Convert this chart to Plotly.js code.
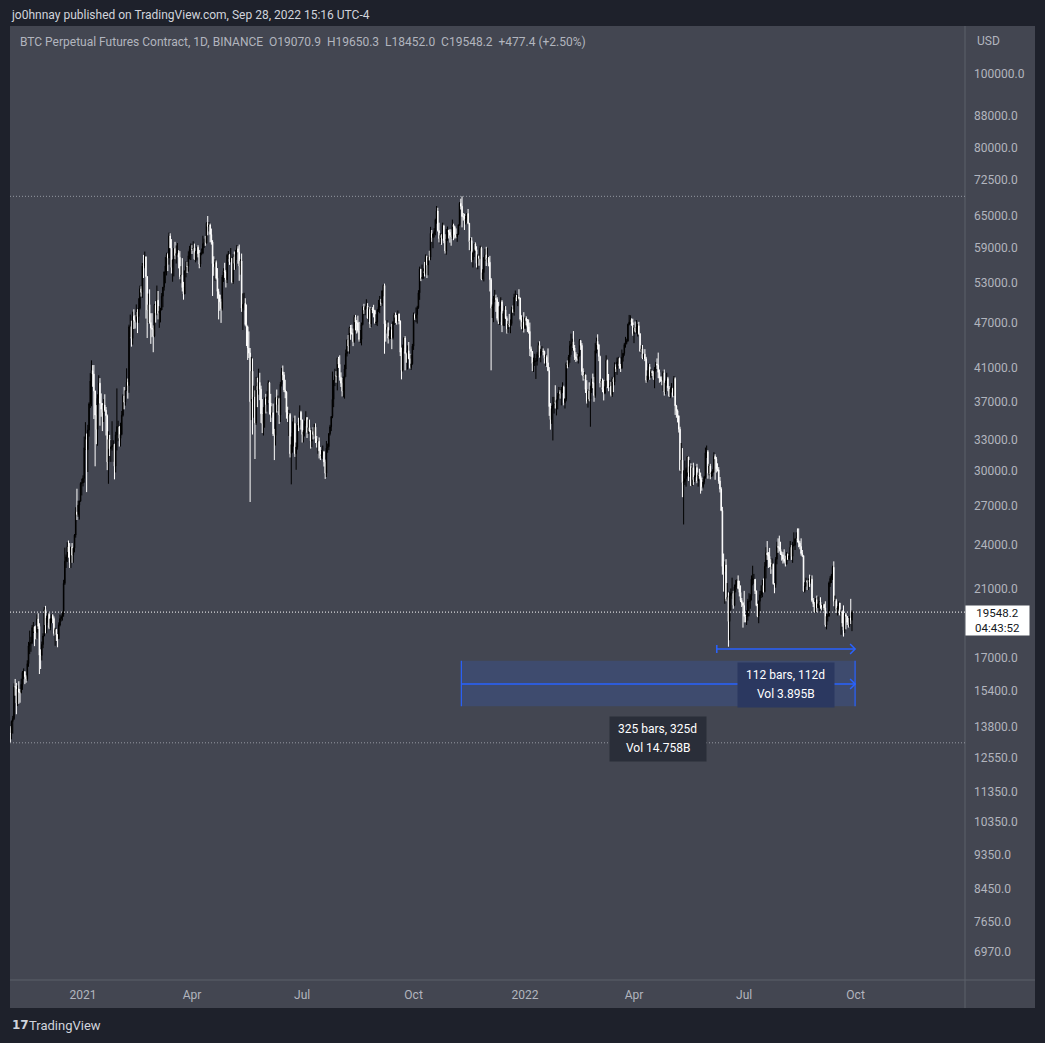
<!DOCTYPE html>
<html>
<head>
<meta charset="utf-8">
<script src="https://cdn.plot.ly/plotly-3.0.1.min.js"></script>
<style>
html,body{margin:0;padding:0;background:#1e212b;}
#chart{width:1045px;height:1043px;}
</style>
</head>
<body>
<div id="chart"></div>
<script>
// ---- DATA: daily candles, BTC perpetual (Binance), values in thousands of USD ----
// each row = [high, low, close]; open of a day = previous day's close (24/7 market)
const firstOpenK = 13.737;

const nov2020 = [[13.83,13.15,13.55],[14.07,13.29,14.03],[14.27,13.52,14.15],[15.75,14.09,15.59],[15.96,15.17,15.58],[15.77,14.34,14.83],[15.65,14.70,15.48],[15.85,14.80,15.33],[15.48,14.85,15.31],[15.97,15.28,15.70],[16.35,15.44,16.28],[16.48,15.95,16.32],[16.33,15.71,16.07],[16.14,15.78,15.96],[16.89,15.87,16.72],[17.86,16.56,17.65],[18.48,17.21,17.78],[18.14,17.33,17.82],[18.80,17.74,18.65],[18.97,18.35,18.70],[18.70,17.63,18.42],[18.77,18.00,18.37],[19.42,18.03,19.15],[19.48,18.57,18.72],[18.90,16.20,17.15],[17.46,16.45,17.14],[17.88,16.88,17.72],[18.33,17.52,18.18],[19.86,18.18,19.70]];
const dec2020 = [[19.92,18.33,18.79],[19.34,18.33,19.21],[19.57,18.92,19.42],[19.51,18.56,18.65],[19.18,18.50,19.15],[19.41,18.90,19.36],[19.42,18.90,19.17],[19.29,18.20,18.32],[18.64,17.65,18.55],[18.56,17.91,18.25],[18.28,17.57,18.03],[18.95,18.02,18.80],[19.41,18.72,19.17],[19.35,19.00,19.27],[19.57,19.05,19.43],[21.56,19.28,21.33],[23.77,21.23,22.80],[23.28,22.35,23.11],[24.17,22.75,23.83],[24.29,23.06,23.46],[24.10,22.35,22.72],[23.84,22.35,23.81],[24.10,22.70,23.23],[23.78,22.70,23.73],[24.77,23.43,24.69],[26.87,24.50,26.49],[28.42,25.85,26.28],[27.41,26.10,27.04],[27.41,25.88,27.37],[28.99,27.32,28.88],[29.30,27.85,28.92]];
const jan2021 = [[29.60,28.62,29.33],[33.30,28.95,32.18],[34.78,31.96,33.00],[33.60,28.13,31.99],[34.50,29.90,33.95],[36.94,33.29,36.77],[40.36,36.30,39.40],[41.95,36.50,40.67],[41.35,38.72,40.24],[41.36,35.11,38.24],[38.26,30.42,35.54],[36.63,32.53,34.01],[37.85,32.38,37.39],[40.10,36.70,39.15],[39.75,34.41,36.83],[37.95,35.36,36.18],[36.85,33.85,35.79],[37.30,34.80,36.63],[37.85,35.90,36.07],[36.42,33.40,35.47],[35.60,30.07,30.83],[33.83,28.85,33.01],[33.46,31.39,32.08],[32.94,30.83,32.27],[34.88,31.90,32.37],[32.92,30.84,32.53],[32.56,29.24,30.43],[33.78,29.86,33.47],[38.53,31.92,34.32],[34.93,32.83,34.32],[34.34,32.30,33.11]];
const feb2021 = [[34.72,32.30,33.52],[35.98,33.42,35.51],[37.85,35.37,37.66],[38.70,36.16,36.95],[38.31,36.57,38.29],[40.95,38.22,39.26],[39.70,37.35,38.87],[46.75,38.02,46.45],[48.20,45.02,46.51],[47.31,43.73,44.84],[48.63,44.00,47.97],[48.98,46.13,47.41],[48.15,46.20,47.19],[49.71,47.05,48.58],[49.00,45.57,47.92],[50.65,47.00,49.14],[52.62,48.95,52.12],[52.53,50.90,51.55],[56.37,50.71,55.90],[57.77,53.86,55.84],[58.35,55.47,57.41],[57.53,47.62,54.09],[54.17,44.89,48.89],[51.37,47.00,49.68],[52.04,46.89,47.07],[48.40,44.10,46.27],[48.40,45.00,46.10],[46.65,43.00,45.14]];
const mar2021 = [[49.79,45.00,49.59],[50.20,47.04,48.44],[52.64,48.10,50.35],[51.77,47.50,48.37],[49.45,46.30,48.75],[49.20,47.07,48.88],[51.45,48.88,50.97],[52.40,49.28,52.38],[54.90,51.83,54.88],[57.39,53.00,55.86],[58.15,54.27,57.80],[58.05,55.00,57.22],[61.80,56.08,61.19],[61.68,58.97,59.00],[60.60,54.60,55.60],[56.94,53.25,56.90],[58.98,54.12,58.91],[60.10,57.00,57.65],[59.45,56.27,58.03],[59.88,57.82,58.10],[58.60,55.45,57.35],[58.43,53.65,54.08],[55.83,53.00,54.34],[57.20,51.70,52.30],[53.23,50.43,51.30],[55.08,51.28,55.03],[56.64,53.96,55.82],[56.56,54.69,55.78],[58.40,54.90,57.63],[59.37,57.00,58.73],[59.80,56.87,58.74]];
const apr2021 = [[59.49,57.93,58.72],[60.20,58.45,58.98],[59.78,56.95,57.06],[58.49,56.48,58.20],[59.25,56.79,59.12],[59.48,57.33,57.97],[58.65,55.47,56.16],[58.15,55.70,58.09],[58.90,57.70,58.09],[61.22,57.90,59.77],[60.69,59.00,59.96],[61.20,59.38,59.85],[63.77,59.82,63.58],[65.00,61.30,62.96],[63.80,62.02,63.25],[63.52,60.00,61.45],[62.57,59.60,60.06],[60.40,51.00,56.25],[57.52,54.22,55.72],[57.00,53.40,56.47],[56.80,53.60,53.82],[55.50,50.58,51.70],[52.13,47.50,51.18],[51.17,48.76,50.11],[50.58,47.00,49.07],[54.35,48.80,54.02],[55.47,53.22,55.04],[56.40,53.88,54.86],[55.20,52.33,53.56],[57.96,53.03,57.70]];
const may2021 = [[58.45,57.05,57.80],[57.90,56.04,56.58],[58.98,56.48,57.17],[57.20,53.00,53.20],[57.90,52.90,57.45],[58.36,55.20,56.28],[58.65,55.25,57.87],[59.50,56.90,58.86],[59.30,56.25,58.24],[59.60,53.40,55.84],[57.00,54.40,56.70],[58.00,48.60,49.15],[51.40,46.00,49.71],[51.50,48.80,49.90],[50.65,46.60,46.76],[49.70,43.82,46.43],[46.60,42.00,43.54],[45.80,42.25,42.90],[43.55,27.30,37.00],[42.40,35.00,40.60],[42.20,33.50,37.30],[38.85,35.25,37.53],[38.30,31.10,34.70],[39.90,34.50,38.80],[39.80,36.40,38.33],[40.90,37.80,39.24],[40.40,37.18,38.44],[38.85,34.70,35.68],[37.30,33.65,34.62],[36.40,33.40,35.65],[37.50,34.20,37.30]];
const jun2021 = [[37.90,35.70,36.69],[38.20,35.90,37.57],[39.48,37.20,39.19],[39.30,35.60,36.86],[37.90,34.80,35.52],[36.50,35.25,35.80],[36.80,33.35,33.56],[34.08,31.00,33.40],[37.50,32.40,37.39],[38.40,35.80,36.69],[37.70,35.95,37.34],[37.45,34.60,35.55],[39.30,34.80,39.02],[41.00,38.75,40.53],[41.30,39.50,40.15],[40.50,38.10,38.35],[39.55,37.40,38.09],[38.20,35.15,35.82],[36.45,34.80,35.48],[36.10,33.35,35.60],[35.75,31.25,31.60],[33.30,28.80,32.51],[34.85,31.70,33.68],[35.25,32.30,34.65],[35.48,31.30,31.60],[32.70,30.10,32.25],[34.70,32.00,34.68],[35.25,33.85,34.45],[36.60,34.20,35.85],[36.00,34.00,35.02]];
const jul2021 = [[35.05,32.70,33.50],[33.95,32.70,33.79],[34.95,33.30,34.65],[35.95,34.35,35.28],[35.30,33.15,33.70],[35.05,33.55,34.22],[35.05,33.78,33.85],[33.95,32.10,32.85],[34.08,32.25,33.80],[34.25,33.00,33.50],[34.60,33.30,34.26],[34.65,32.65,33.08],[33.35,32.20,32.72],[33.10,31.60,32.82],[33.20,31.15,31.88],[32.25,31.00,31.39],[31.95,31.15,31.53],[32.40,31.10,31.78],[31.88,30.40,30.83],[31.05,29.28,29.79],[32.85,29.45,32.14],[32.60,31.70,32.29],[33.65,31.95,33.58],[34.50,33.40,34.29],[35.40,33.85,35.38],[40.55,35.20,37.27],[39.53,36.40,39.46],[40.90,38.80,40.02],[40.60,39.20,40.00],[42.30,38.30,42.20],[42.40,41.00,41.46]];
const aug2021 = [[42.60,39.45,39.85],[40.45,38.70,39.15],[39.75,37.60,38.20],[39.95,37.50,39.72],[41.40,37.35,40.87],[43.35,39.90,42.84],[44.70,42.45,44.61],[45.30,43.10,43.82],[46.45,42.80,46.29],[46.70,44.65,45.59],[46.75,45.35,45.55],[46.20,43.80,44.40],[48.15,44.25,47.82],[48.15,45.95,47.10],[47.40,45.50,47.02],[48.05,45.65,45.93],[47.15,44.40,44.69],[46.00,44.20,44.71],[47.05,43.90,46.76],[49.40,46.65,49.34],[49.80,48.30,48.87],[49.50,48.10,49.29],[50.50,49.05,49.50],[49.90,47.60,47.70],[49.30,47.15,48.97],[49.35,46.30,46.85],[49.20,46.40,49.07],[49.30,48.40,48.90],[49.65,47.80,48.80],[48.90,46.90,46.99],[48.25,46.70,47.13]];
const sep2021 = [[49.00,46.55,48.83],[50.40,48.60,49.27],[51.00,48.40,49.94],[50.55,49.50,49.90],[51.90,49.45,51.76],[52.80,50.95,52.66],[52.95,42.80,46.86],[47.35,44.40,46.06],[47.40,45.50,46.38],[47.05,44.15,44.85],[45.95,44.70,45.16],[46.45,44.75,46.03],[46.85,43.40,44.94],[47.25,44.70,47.11],[48.45,46.70,48.14],[48.50,47.00,47.76],[48.15,46.75,47.30],[48.80,47.05,48.30],[48.35,46.80,47.26],[47.35,42.50,42.99],[43.60,39.60,40.70],[44.00,40.55,43.56],[45.00,43.10,44.89],[45.15,40.70,42.83],[42.95,41.65,42.70],[43.90,40.80,43.20],[44.35,42.10,42.17],[42.80,40.90,41.03],[42.65,40.75,41.52],[44.10,41.40,43.79]];
const oct2021 = [[48.50,43.30,48.14],[48.35,47.40,47.66],[49.25,47.10,48.20],[49.50,46.90,49.23],[51.90,49.05,51.49],[55.75,50.40,55.34],[55.35,53.35,53.80],[56.10,53.65,53.95],[55.45,53.70,54.96],[56.55,54.10,54.66],[57.85,54.40,57.49],[57.65,53.85,56.01],[57.70,54.30,57.37],[58.50,56.80,57.36],[62.90,56.85,61.67],[62.30,60.10,60.88],[61.70,58.95,61.53],[62.65,60.90,62.00],[64.48,61.30,64.28],[67.00,63.50,66.00],[66.65,62.00,62.21],[63.70,60.00,60.69],[61.70,59.70,61.31],[61.50,59.55,60.86],[63.70,60.65,63.08],[63.30,59.85,60.33],[61.50,58.00,58.45],[62.50,57.80,60.59],[62.95,60.30,62.27],[62.30,60.70,61.88],[62.45,59.95,61.30]];
const nov2021 = [[62.40,59.40,61.00],[64.30,60.65,63.22],[63.50,60.40,62.93],[63.10,60.70,61.44],[62.60,60.75,61.00],[61.55,60.10,61.53],[63.30,61.35,63.30],[67.80,63.10,67.55],[68.50,66.30,66.95],[69.00,62.80,64.88],[65.60,64.10,64.80],[65.45,62.30,64.15],[65.00,63.35,64.40],[65.50,63.60,65.50],[66.40,63.40,63.60],[63.60,58.60,60.10],[60.80,58.40,60.35],[60.95,56.50,56.90],[58.35,55.60,58.10],[59.85,57.40,59.75],[60.00,58.50,58.70],[59.30,55.60,56.30],[57.85,55.30,57.55],[57.65,55.90,57.15],[59.40,57.00,58.95],[59.20,53.50,53.70],[55.30,53.65,54.75],[57.40,53.30,57.30],[58.85,56.70,57.80],[59.20,55.85,56.95]];
const dec2021 = [[59.05,56.45,57.20],[57.40,55.80,56.50],[57.60,51.70,53.60],[53.85,40.70,49.15],[49.70,47.70,49.40],[51.00,47.10,50.60],[51.95,50.05,50.60],[51.20,48.60,50.50],[50.80,47.35,47.65],[50.10,46.85,47.15],[49.50,46.70,49.40],[50.80,48.65,50.10],[50.35,45.70,46.70],[48.70,46.55,48.35],[49.50,46.55,48.90],[49.45,47.55,47.65],[47.95,45.50,46.15],[47.30,45.60,46.85],[48.30,46.40,46.70],[47.50,45.55,46.90],[49.35,46.60,48.95],[49.55,48.45,48.60],[51.35,48.05,50.80],[51.85,50.40,50.80],[51.15,50.20,50.40],[51.30,49.45,50.80],[52.05,50.45,50.70],[50.70,47.35,47.55],[48.10,46.10,46.45],[47.90,45.90,47.10],[48.55,45.65,46.20]];
const jan2022 = [[47.90,46.20,47.70],[47.95,46.65,47.30],[47.55,45.70,46.45],[47.50,45.50,45.80],[47.05,42.50,43.45],[43.75,42.40,43.10],[43.15,40.60,41.55],[42.30,40.50,41.70],[42.80,41.25,41.85],[42.25,39.65,41.85],[43.00,41.30,42.75],[44.30,42.45,43.90],[44.45,42.30,42.55],[43.45,41.70,43.10],[43.80,42.65,43.15],[43.50,42.60,43.10],[43.20,41.55,42.20],[42.70,41.25,42.35],[42.60,41.10,41.65],[43.50,40.60,40.65],[41.10,35.45,36.45],[36.85,34.00,35.05],[36.55,34.60,36.25],[37.55,32.90,36.65],[37.55,35.70,36.95],[38.90,36.25,36.80],[37.25,35.50,37.15],[38.00,36.15,37.70],[38.70,37.35,38.15],[38.35,37.35,37.90],[38.70,36.60,38.45]];
const feb2022 = [[39.25,38.00,38.70],[38.85,36.60,36.90],[37.40,36.25,37.30],[41.70,37.05,41.55],[41.95,40.95,41.40],[42.65,41.10,42.40],[44.50,41.65,43.85],[45.50,42.65,44.05],[44.80,43.15,44.40],[45.85,43.20,43.55],[43.95,42.00,42.40],[43.00,41.75,42.20],[42.75,41.85,42.05],[42.85,41.55,42.55],[44.75,42.45,44.55],[44.60,43.30,43.90],[44.20,40.10,40.55],[40.95,39.45,40.00],[40.50,39.65,40.15],[40.15,38.00,38.40],[39.50,36.80,37.05],[38.45,36.35,38.25],[39.25,37.05,37.30],[38.85,34.30,38.35],[39.70,38.00,39.25],[40.30,38.55,39.15],[39.90,37.00,37.70],[44.20,37.45,43.20]];
const mar2022 = [[44.95,42.85,44.45],[45.40,43.35,43.95],[44.10,41.85,42.45],[42.55,38.65,39.15],[39.65,38.60,39.40],[39.70,38.10,38.40],[39.55,37.15,37.99],[39.40,37.85,38.75],[42.60,38.65,41.95],[42.05,38.55,39.45],[40.25,38.20,38.75],[39.50,38.65,38.80],[39.30,37.60,37.80],[39.90,37.55,39.65],[39.85,38.10,39.30],[41.70,38.90,41.10],[41.45,40.50,40.90],[42.30,40.15,41.75],[42.40,41.50,42.20],[42.30,40.90,41.25],[41.50,40.50,41.00],[43.35,40.85,42.35],[42.90,41.80,42.85],[44.20,42.55,44.00],[45.05,43.60,44.30],[44.80,44.05,44.50],[46.90,44.40,46.80],[48.15,46.65,47.10],[48.10,46.90,47.45],[47.65,46.60,47.05],[47.60,45.20,45.50]];
const apr2022 = [[46.70,44.20,46.30],[47.20,45.65,45.80],[47.40,45.50,46.40],[46.85,45.10,46.60],[47.15,45.35,45.50],[45.50,43.05,43.15],[43.90,42.75,43.45],[43.95,42.10,42.25],[42.80,42.10,42.75],[43.40,41.85,42.15],[42.40,39.20,39.50],[40.70,39.25,40.05],[41.55,39.55,41.15],[41.50,39.55,39.95],[40.85,39.75,40.55],[40.70,40.00,40.40],[40.60,39.55,39.70],[41.10,38.55,40.80],[41.75,40.55,41.50],[42.20,40.85,41.35],[42.95,39.75,40.45],[40.80,39.20,39.70],[39.95,39.30,39.45],[39.95,38.90,39.45],[40.60,38.20,40.40],[40.80,37.70,38.10],[39.45,37.85,39.20],[40.40,38.85,39.70],[39.90,38.20,38.60],[38.80,37.55,37.65]];
const may2022 = [[38.65,37.40,38.45],[39.15,38.05,38.50],[38.60,37.50,37.70],[40.00,37.65,39.70],[39.85,35.55,36.55],[36.65,35.25,36.00],[36.15,34.75,35.45],[35.50,33.70,34.05],[34.30,30.00,30.10],[32.65,29.75,31.00],[32.15,27.70,28.95],[30.05,25.50,29.05],[30.95,28.75,29.30],[30.30,28.60,30.10],[31.35,29.50,31.30],[31.30,29.10,29.85],[31.00,29.45,30.40],[30.70,28.65,28.70],[30.55,28.70,30.30],[30.75,28.75,29.20],[29.60,29.00,29.45],[30.45,29.45,30.30],[30.65,28.90,29.10],[29.85,28.60,29.65],[30.20,29.30,29.55],[29.85,28.00,29.20],[29.40,28.25,28.60],[29.25,28.45,29.00],[29.55,28.80,29.45],[32.20,29.30,31.70],[32.40,31.20,31.80]];
const jun2022 = [[31.95,29.30,29.80],[30.65,29.60,30.45],[30.65,29.25,29.70],[29.95,29.45,29.85],[30.15,29.50,29.90],[31.75,29.85,31.35],[31.55,29.20,31.10],[31.30,29.85,30.20],[30.70,29.95,30.10],[30.35,28.85,29.10],[29.45,28.10,28.40],[28.55,26.55,26.60],[26.90,21.90,22.45],[23.35,20.80,22.10],[22.80,20.05,22.55],[22.95,20.20,20.35],[21.35,20.25,20.45],[20.75,17.60,19.00],[20.80,17.95,20.55],[21.00,19.65,20.70],[21.70,20.35,20.70],[20.85,19.75,19.95],[21.25,19.90,21.10],[21.55,20.75,21.25],[21.60,20.95,21.50],[21.85,20.95,21.00],[21.50,20.50,20.75],[21.20,20.15,20.25],[20.40,19.85,20.10],[20.15,18.65,19.95]];
const jul2022 = [[20.85,18.95,19.30],[19.40,18.95,19.25],[19.65,18.80,19.30],[20.35,19.05,20.20],[20.70,19.30,20.20],[20.65,19.75,20.55],[21.85,20.25,21.60],[22.50,21.20,21.60],[21.95,21.30,21.60],[21.60,20.65,20.85],[20.85,19.90,19.95],[20.05,19.25,19.30],[20.25,18.90,20.20],[20.85,19.60,20.60],[21.20,20.40,20.85],[21.55,20.45,21.20],[21.65,20.75,20.80],[22.75,20.75,22.45],[23.80,21.65,23.40],[24.25,22.90,23.25],[23.45,22.35,23.15],[23.75,22.40,22.70],[22.95,21.95,22.45],[23.00,22.25,22.60],[22.65,21.25,21.30],[21.35,20.70,21.25],[23.10,21.05,22.95],[24.20,22.60,23.85],[24.45,23.40,23.80],[24.65,23.50,23.65],[24.20,23.25,23.30]];
const aug2022 = [[23.50,22.85,23.25],[23.45,22.65,22.95],[23.65,22.70,22.80],[23.20,22.45,22.60],[23.45,22.60,23.30],[23.35,22.90,22.95],[23.40,22.85,23.20],[24.25,23.15,23.80],[23.95,22.90,23.15],[24.20,22.70,23.95],[24.90,23.85,23.95],[24.45,23.60,24.40],[24.90,24.30,24.45],[25.20,24.15,24.30],[25.20,23.80,24.10],[24.25,23.65,23.85],[24.45,23.20,23.35],[23.60,23.10,23.20],[23.20,20.80,20.85],[21.40,20.75,21.15],[21.70,21.10,21.50],[21.55,20.90,21.40],[21.65,20.90,21.55],[21.90,21.10,21.40],[21.80,21.30,21.60],[21.85,20.15,20.25],[20.40,19.85,20.05],[20.15,19.55,19.55],[20.40,19.55,20.30],[20.55,19.55,19.80],[20.50,19.80,20.05]];
const sep2022 = [[20.20,19.60,20.15],[20.45,19.75,19.95],[19.95,19.65,19.85],[20.05,19.60,20.00],[20.05,19.65,19.80],[20.20,18.70,18.80],[19.45,18.55,19.30],[19.45,19.00,19.30],[21.45,19.30,21.35],[21.80,21.10,21.65],[21.95,21.35,21.85],[22.50,21.55,22.40],[22.80,19.90,20.20],[20.55,19.65,20.25],[20.35,19.50,19.70],[19.90,19.35,19.80],[20.20,19.70,20.10],[20.10,19.35,19.40],[19.70,18.25,19.55],[19.65,18.70,18.90],[19.95,18.15,18.50],[19.50,18.35,19.40],[19.50,18.55,19.30],[19.30,18.80,18.95],[19.20,18.65,18.80],[19.30,18.70,19.20],[20.35,18.85,19.0709],[19.6503,18.452,19.5482]];

// month tables: [year, month, first day, rows]
const monthTables = [
  [2020,11,2,nov2020],[2020,12,1,dec2020],
  [2021,1,1,jan2021],[2021,2,1,feb2021],[2021,3,1,mar2021],[2021,4,1,apr2021],[2021,5,1,may2021],[2021,6,1,jun2021],
  [2021,7,1,jul2021],[2021,8,1,aug2021],[2021,9,1,sep2021],[2021,10,1,oct2021],[2021,11,1,nov2021],[2021,12,1,dec2021],
  [2022,1,1,jan2022],[2022,2,1,feb2022],[2022,3,1,mar2022],[2022,4,1,apr2022],[2022,5,1,may2022],[2022,6,1,jun2022],
  [2022,7,1,jul2022],[2022,8,1,aug2022],[2022,9,1,sep2022]
];

// axis tick labels
const yTickVals = [100000,88000,80000,72500,65000,59000,53000,47000,41000,37000,33000,30000,27000,24000,21000,17000,15400,13800,12550,11350,10350,9350,8450,7650,6970];
const xTickVals = ['2021-01-01','2021-04-01','2021-07-01','2021-10-01','2022-01-01','2022-04-01','2022-07-01','2022-10-01'];
const xTickText = ['2021','Apr','Jul','Oct','2022','Apr','Jul','Oct'];

// text
const captionText = 'jo0hnnay published on TradingView.com, Sep 28, 2022 15:16 UTC-4';
const headerText = 'BTC Perpetual Futures Contract, 1D, BINANCE&nbsp;&nbsp;O19070.9&nbsp;&nbsp;H19650.3&nbsp;&nbsp;L18452.0&nbsp;&nbsp;C19548.2&nbsp;&nbsp;+477.4 (+2.50%)';
const countdownText = '04:43:52';
const shortRangeLines = ['112 bars, 112d', 'Vol 3.895B'];
const longRangeLines = ['325 bars, 325d', 'Vol 14.758B'];

// ---- build series ----
const dates=[], opens=[], highs=[], lows=[], closes=[];
let prevClose = firstOpenK;
for (const [yy,mm,d0,rows] of monthTables) {
  rows.forEach((r,i) => {
    const dt = new Date(Date.UTC(yy, mm-1, d0+i));
    dates.push(dt.toISOString().slice(0,10));
    opens.push(prevClose*1000);
    highs.push(r[0]*1000);
    lows.push(r[1]*1000);
    closes.push(r[2]*1000);
    prevClose = r[2];
  });
}
const lastClose = closes[closes.length-1];
const maxHigh = Math.max(...highs);
const minLow = Math.min(...lows);

// ---- styling ----
const BLUE = '#2962ff';
const TXT = '#b2b5be';
const FONT = 'Roboto, "Open Sans", sans-serif';
const L = Math.log10;

const trace = {
  type:'candlestick', x:dates, open:opens, high:highs, low:lows, close:closes,
  increasing:{line:{color:'#000000', width:1}, fillcolor:'#000000'},
  decreasing:{line:{color:'#ffffff', width:1}, fillcolor:'#ffffff'},
  whiskerwidth:0, hoverinfo:'skip', showlegend:false
};

// ruler tool anchors (dates / prices)
const shortStart = '2022-06-08 09:00', rangeEnd = '2022-09-30 14:00';
const shortY = 17480, shortTickLo = 17270, shortTickHi = 17690;
const longStart = '2021-11-09 10:00';
const longTop = 16870, longBottom = 14690, longMid = 15720;
const shortLabel = {x:'2022-08-04 12:00', y:15690, bg:'#2b3860', lines:shortRangeLines};
const longLabel = {x:'2022-04-20 19:00', y:13320, bg:'#2a2e39', lines:longRangeLines};

const shapes = [
  // panel background incl. axis areas
  {type:'rect', xref:'paper', yref:'paper', x0:0, x1:1.0733, y0:-0.0294, y1:1, fillcolor:'#434651', line:{width:0}, layer:'below'},
  // axis separators
  {type:'line', xref:'paper', yref:'paper', x0:1, x1:1, y0:-0.0294, y1:1, line:{color:'#5d606b', width:1}},
  {type:'line', xref:'paper', yref:'paper', x0:0, x1:1.0733, y0:0, y1:0, line:{color:'#5d606b', width:1}},
  // high / low / last price lines
  {type:'line', xref:'paper', yref:'y', x0:0, x1:1, y0:maxHigh, y1:maxHigh, line:{color:'#9598a1', width:1, dash:'1px,2px'}},
  {type:'line', xref:'paper', yref:'y', x0:0, x1:1, y0:minLow, y1:minLow, line:{color:'#9598a1', width:1, dash:'1px,2px'}},
  {type:'line', xref:'paper', yref:'y', x0:0, x1:1, y0:lastClose, y1:lastClose, line:{color:'#ffffff', width:1, dash:'1px,2px'}},
  // long range ruler
  {type:'rect', xref:'x', yref:'y', x0:longStart, x1:rangeEnd, y0:longBottom, y1:longTop, fillcolor:'rgba(41,98,255,0.17)', line:{width:0}},
  {type:'line', xref:'x', yref:'y', x0:longStart, x1:longStart, y0:longBottom, y1:longTop, line:{color:BLUE, width:1.2}},
  {type:'line', xref:'x', yref:'y', x0:rangeEnd, x1:rangeEnd, y0:longBottom, y1:longTop, line:{color:BLUE, width:1.2}},
  {type:'line', xref:'x', yref:'y', x0:longStart, x1:rangeEnd, y0:longMid, y1:longMid, line:{color:BLUE, width:1.5}},
  {type:'path', xref:'x', yref:'y', xsizemode:'pixel', ysizemode:'pixel', xanchor:rangeEnd, yanchor:longMid, path:'M -5 5 L 0 0 L -5 -5', line:{color:BLUE, width:1.5}},
  // short range ruler
  {type:'line', xref:'x', yref:'y', x0:shortStart, x1:rangeEnd, y0:shortY, y1:shortY, line:{color:BLUE, width:1.5}},
  {type:'line', xref:'x', yref:'y', x0:shortStart, x1:shortStart, y0:shortTickLo, y1:shortTickHi, line:{color:BLUE, width:1.5}},
  {type:'path', xref:'x', yref:'y', xsizemode:'pixel', ysizemode:'pixel', xanchor:rangeEnd, yanchor:shortY, path:'M -5 5 L 0 0 L -5 -5', line:{color:BLUE, width:1.5}}
];

const annotations = [
  {xref:'paper', yref:'paper', x:-0.0008, y:1.0115, xanchor:'left', yanchor:'middle', showarrow:false, text:captionText, font:{family:FONT, size:12, color:'#d1d4dc'}},
  {xref:'paper', yref:'paper', x:0.0084, y:0.9832, xanchor:'left', yanchor:'middle', showarrow:false, text:headerText, font:{family:FONT, size:12, color:TXT}},
  {xref:'paper', yref:'paper', x:1.0105, y:0.9843, xanchor:'left', yanchor:'middle', showarrow:false, text:'USD', font:{family:FONT, size:12, color:TXT}},
  // last price label
  {xref:'paper', yref:'y', x:1, y:L(lastClose), xanchor:'left', yanchor:'top', yshift:7, showarrow:false,
   text:lastClose.toFixed(1)+'<br>'+countdownText, bgcolor:'#ffffff', borderpad:1, width:61, height:27, align:'center',
   font:{family:FONT, size:11.5, color:'#131722'}},
  // footer logo
  {xref:'paper', yref:'paper', x:-0.0005, y:-0.0472, xanchor:'left', yanchor:'middle', showarrow:false,
   text:'<b>17</b>', font:{family:'"DejaVu Sans", sans-serif', size:12, color:'#d1d4dc'}},
  {xref:'paper', yref:'paper', x:0.0175, y:-0.0472, xanchor:'left', yanchor:'middle', showarrow:false,
   text:'TradingView', font:{family:FONT, size:13, color:'#d1d4dc'}}
];

// ruler labels: background box annotation + two text lines each
for (const lab of [shortLabel, longLabel]) {
  annotations.push({xref:'x', yref:'y', x:lab.x, y:L(lab.y), xanchor:'center', yanchor:'middle', showarrow:false,
    text:'&nbsp;', bgcolor:lab.bg, borderpad:0, width:96, height:44, font:{family:FONT, size:12, color:'#ffffff'}});
  lab.lines.forEach((t,i) => annotations.push({xref:'x', yref:'y', x:lab.x, y:L(lab.y), xanchor:'center', yanchor:'middle',
    yshift: i===0 ? 10 : -9.5, showarrow:false, text:t, font:{family:FONT, size:12, color:'#ffffff'}}));
}

const layout = {
  width:1045, height:1043,
  margin:{l:10, r:80, t:26, b:63, pad:0, autoexpand:false},
  paper_bgcolor:'#1e212b', plot_bgcolor:'#434651',
  font:{family:FONT, color:TXT},
  showlegend:false,
  xaxis:{type:'date', range:['2020-11-01 17:17','2022-12-30 08:10'], tickvals:xTickVals, ticktext:xTickText,
         showgrid:false, zeroline:false, showline:false, ticks:'', tickfont:{size:12, color:TXT},
         rangeslider:{visible:false}, fixedrange:true, ticklabelstandoff:6},
  yaxis:{type:'log', side:'right', range:[L(6404), L(115670)], tickvals:yTickVals,
         ticktext:yTickVals.map(v => v.toFixed(1)),
         showgrid:false, zeroline:false, showline:false, ticks:'', tickfont:{size:12, color:TXT},
         fixedrange:true, ticklabelstandoff:8},
  shapes:shapes, annotations:annotations
};

Plotly.newPlot('chart', [trace], layout, {staticPlot:true, displayModeBar:false});
</script>
</body>
</html>
